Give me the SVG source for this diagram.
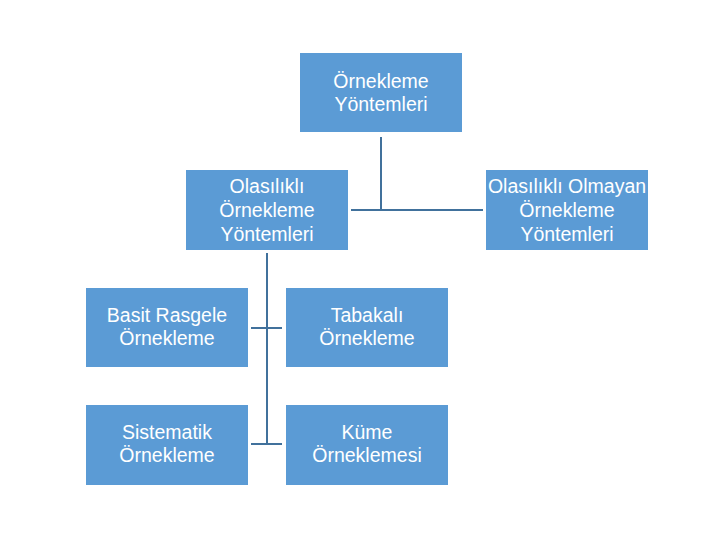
<svg xmlns="http://www.w3.org/2000/svg" width="720" height="540" viewBox="0 0 720 540">
<style>
.box{fill:#5B9BD5}
.t{fill:#ffffff;font-family:"Liberation Sans",Arial,sans-serif;font-size:19.5px;text-anchor:middle}
.c{stroke:#41719C;stroke-width:2;fill:none}
</style>
<rect width="720" height="540" fill="#ffffff"/>
<g id="connectors">
<path class="c" d="M381 137V210M351 210H483"/>
<path class="c" d="M267 253V444M251 328H282M251 444H282"/>
</g>
<g id="root"><rect class="box" x="300" y="53" width="162" height="79"/>
<text class="t" x="381" y="88">Örnekleme</text><text class="t" x="381" y="111">Yöntemleri</text></g>
<g id="olasilikli"><rect class="box" x="186" y="170" width="162" height="80"/>
<text class="t" x="267" y="193">Olasılıklı</text><text class="t" x="267" y="217">Örnekleme</text><text class="t" x="267" y="241">Yöntemleri</text></g>
<g id="olasilikli-olmayan"><rect class="box" x="486" y="170" width="162" height="80"/>
<text class="t" x="567" y="193">Olasılıklı Olmayan</text><text class="t" x="567" y="217">Örnekleme</text><text class="t" x="567" y="241">Yöntemleri</text></g>
<g id="basit"><rect class="box" x="86" y="288" width="162" height="79"/>
<text class="t" x="167" y="322">Basit Rasgele</text><text class="t" x="167" y="345">Örnekleme</text></g>
<g id="tabakali"><rect class="box" x="286" y="288" width="162" height="79"/>
<text class="t" x="367" y="322">Tabakalı</text><text class="t" x="367" y="345">Örnekleme</text></g>
<g id="sistematik"><rect class="box" x="86" y="405" width="162" height="80"/>
<text class="t" x="167" y="439">Sistematik</text><text class="t" x="167" y="462">Örnekleme</text></g>
<g id="kume"><rect class="box" x="286" y="405" width="162" height="80"/>
<text class="t" x="367" y="439">Küme</text><text class="t" x="367" y="462">Örneklemesi</text></g>
</svg>
